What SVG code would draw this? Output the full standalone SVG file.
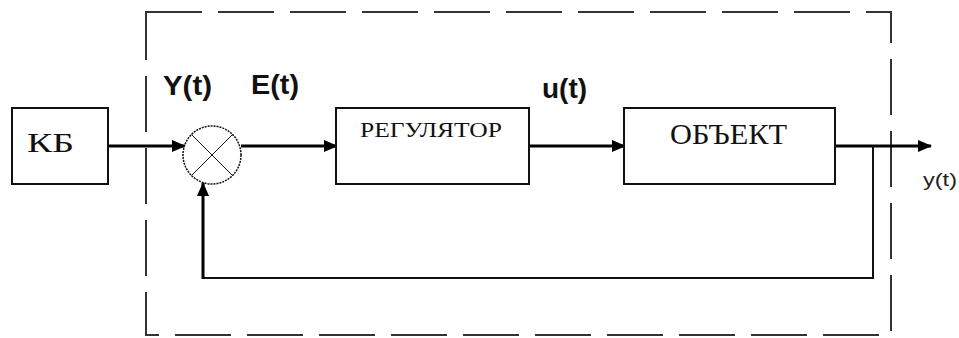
<svg xmlns="http://www.w3.org/2000/svg" width="959" height="338" viewBox="0 0 959 338">
<style>
.box{fill:#fff;stroke:#111;stroke-width:2}
.serif{font-family:"Liberation Serif","Times New Roman",serif;fill:#111}
.lbl{font-family:"Liberation Sans",Arial,sans-serif;font-weight:bold;fill:#111}
.thin{font-family:"Liberation Sans",Arial,sans-serif;fill:#222}
.line{fill:none;stroke:#000;stroke-width:3}
.fine{fill:none;stroke:#111;stroke-width:2}
</style>
<defs>
<marker id="arr" markerWidth="14" markerHeight="12" refX="13" refY="6" orient="auto" markerUnits="userSpaceOnUse">
<path d="M0,0 L14,6 L0,12 Z" fill="#000"/>
</marker>
</defs>
<rect width="959" height="338" fill="#fff"/>
<g id="boundary">
<rect x="146" y="12" width="745" height="323" fill="none" stroke="#333" stroke-width="2" stroke-dasharray="56 16"/>
</g>
<g id="connectors">
<line class="line" x1="108" y1="146" x2="185" y2="146" marker-end="url(#arr)"/>
<line class="line" x1="241" y1="146" x2="337" y2="146" marker-end="url(#arr)"/>
<line class="line" x1="529" y1="146" x2="625" y2="146" marker-end="url(#arr)"/>
<line class="line" x1="835" y1="146" x2="931" y2="146" marker-end="url(#arr)"/>
<polyline class="fine" points="873,146 873,278 202,278"/>
<line class="line" x1="203" y1="279" x2="203" y2="183" marker-end="url(#arr)"/>
</g>
<g id="node-kb">
<rect class="box" x="12" y="108" width="96" height="76"/>
<text class="serif" x="27" y="152" font-size="28" textLength="47" lengthAdjust="spacingAndGlyphs">КБ</text>
</g>
<g id="node-sum">
<circle cx="212" cy="155" r="29" fill="#fff" stroke="#111" stroke-width="1.5" stroke-dasharray="2 1"/>
<line x1="191.5" y1="134.5" x2="232.5" y2="175.5" stroke="#111" stroke-width="1"/>
<line x1="232.5" y1="134.5" x2="191.5" y2="175.5" stroke="#111" stroke-width="1"/>
</g>
<g id="node-regulator">
<rect class="box" x="336" y="108" width="193" height="76"/>
<text class="serif" x="360" y="137" font-size="22" textLength="142" lengthAdjust="spacingAndGlyphs">РЕГУЛЯТОР</text>
</g>
<g id="node-object">
<rect class="box" x="624" y="108" width="211" height="76"/>
<text class="serif" x="670" y="144" font-size="30" textLength="117" lengthAdjust="spacingAndGlyphs">ОБЪЕКТ</text>
</g>
<g id="labels">
<text class="lbl" x="163" y="95" font-size="28" textLength="49" lengthAdjust="spacingAndGlyphs">Y(t)</text>
<text class="lbl" x="251" y="94" font-size="27" textLength="48" lengthAdjust="spacingAndGlyphs">E(t)</text>
<text class="lbl" x="542" y="98" font-size="28" textLength="45" lengthAdjust="spacingAndGlyphs">u(t)</text>
<text class="thin" x="923" y="186" font-size="19" textLength="34" lengthAdjust="spacingAndGlyphs">y(t)</text>
</g>
</svg>
